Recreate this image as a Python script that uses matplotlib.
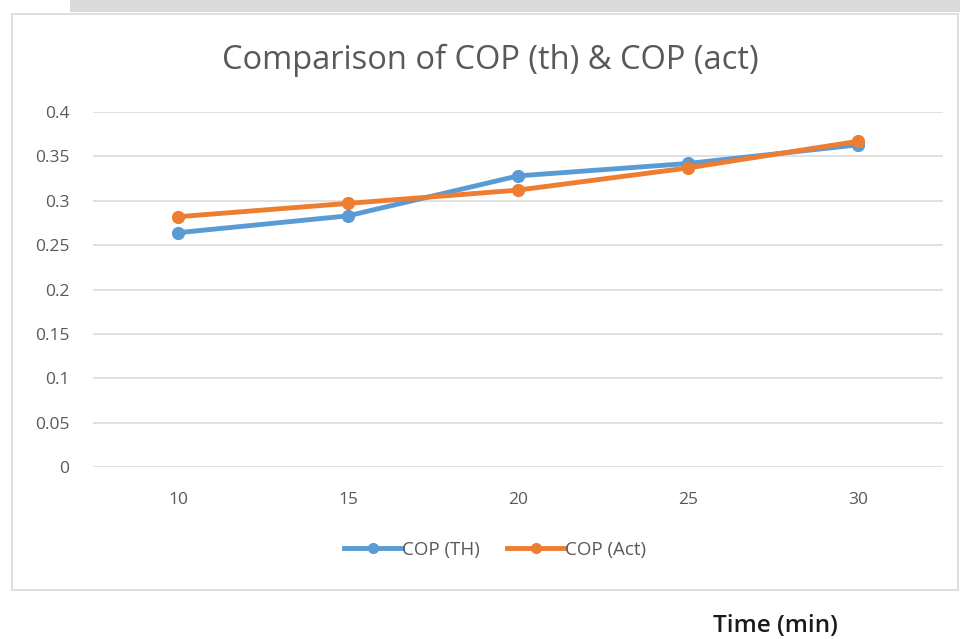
import matplotlib
matplotlib.use("Agg")
import matplotlib.pyplot as plt
from matplotlib.patches import Rectangle
from matplotlib.lines import Line2D

categories = ["10", "15", "20", "25", "30"]
cop_th = [0.264, 0.283, 0.328, 0.342, 0.363]
cop_act = [0.282, 0.297, 0.312, 0.337, 0.367]
yticks = [0, 0.05, 0.1, 0.15, 0.2, 0.25, 0.3, 0.35, 0.4]
ytick_labels = ["0", "0.05", "0.1", "0.15", "0.2", "0.25", "0.3", "0.35", "0.4"]

plt.rcParams['font.family'] = ['Open Sans', 'DejaVu Sans']

W, H = 960, 639
fig = plt.figure(figsize=(9.6, 6.39), dpi=100)
fig.patch.set_facecolor("white")

def fx(px):
    return px / W

def fy(py):
    return 1 - py / H

# faint top band (scan remnant)
fig.patches.append(Rectangle((fx(70), fy(12)), fx(890), 12 / H, transform=fig.transFigure,
                             facecolor="#dadada", edgecolor="none", zorder=0))
# chart border
fig.patches.append(Rectangle((fx(12), fy(590)), fx(946), (590 - 14) / H, transform=fig.transFigure,
                             facecolor="white", edgecolor="#d9d9d9", linewidth=1.2, zorder=0.5))

ax = fig.add_axes([fx(93), fy(467), fx(943 - 93), (467 - 112) / H])
ax.set_zorder(2)
ax.set_facecolor("none")
x = list(range(len(categories)))
blue = "#5B9BD5"
orange = "#ED7D31"
ax.plot(x, cop_th, color=blue, linewidth=3.5, marker="o", markersize=8.5, label="COP (TH)", zorder=3)
ax.plot(x, cop_act, color=orange, linewidth=3.5, marker="o", markersize=8.5, label="COP (Act)", zorder=4)

ax.set_xlim(-0.5, len(categories) - 0.5)
ax.set_ylim(0, 0.4)
ax.set_yticks(yticks)
ax.set_yticklabels(ytick_labels)
ax.set_xticks(x)
ax.set_xticklabels(categories)
ax.grid(axis="y", color="#d9d9d9", linewidth=1.1)
ax.set_axisbelow(True)
for s in ax.spines.values():
    s.set_visible(False)
ax.tick_params(axis="both", length=0, colors="#595959", labelsize=12.5)
ax.tick_params(axis="y", pad=17)
ax.tick_params(axis="x", pad=18)
for lab in ax.get_yticklabels() + ax.get_xticklabels():
    lab.set_color("#595959")

fig.text(fx(490), fy(60), "Comparison of COP (th) & COP (act)", ha="center", va="center",
         fontsize=23.5, color="#595959")

handles = [Line2D([0], [0], color=blue, linewidth=3.5, marker="o", markersize=7),
           Line2D([0], [0], color=orange, linewidth=3.5, marker="o", markersize=7)]
fig.legend(handles, ["COP (TH)", "COP (Act)"], loc="center", bbox_to_anchor=(fx(495), fy(550)),
           ncol=2, frameon=False, fontsize=13.5, handlelength=3.1, handletextpad=0.0,
           columnspacing=1.4, labelcolor="#595959")

fig.text(fx(775), fy(626), "Time (min)", ha="center", va="center", fontsize=17.5,
         color="#1a1a1a", fontweight="semibold")

fig.savefig("out.png", dpi=100, facecolor="white")
